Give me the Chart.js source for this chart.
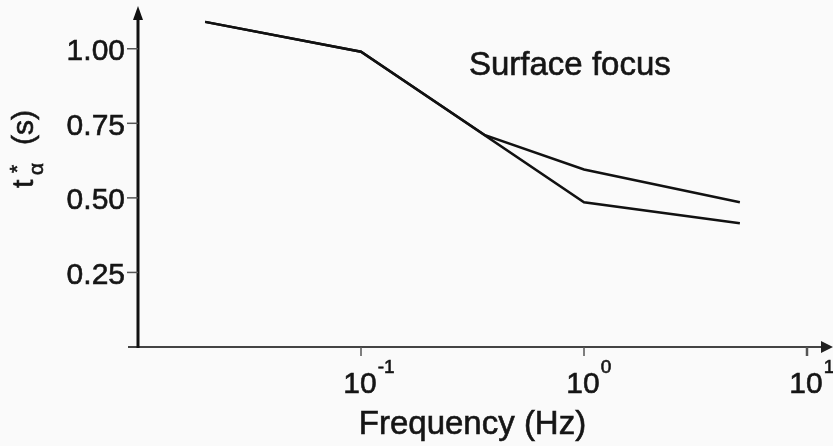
<!DOCTYPE html>
<html>
<head>
<meta charset="utf-8">
<script src="https://cdn.jsdelivr.net/npm/chart.js@4/dist/chart.umd.min.js"></script>
<style>
    body { margin: 0; background: #fafafa; }
    #wrap { width: 833px; height: 446px; position: relative; }
</style>
</head>
<body>
<div id="wrap"><canvas id="tChart"></canvas></div>
<script>
// data
const freqLower = [0.02, 0.1, 1, 5];
const tLower = [1.09, 0.99, 0.485, 0.415];
const freqUpper = [0.02, 0.1, 0.36, 1, 5];
const tUpper = [1.09, 0.99, 0.71, 0.595, 0.485];
const yTicks = [0.25, 0.5, 0.75, 1.0];
const xTicks = [0.1, 1, 10];
const xTickExp = ['-1', '0', '1'];

const FONT = '"Liberation Sans", Arial, sans-serif';

function toPoints(xs, ys) {
    return xs.map(function(x, i) { return { x: x, y: ys[i] }; });
}

// fill + thin stroke, the scanned text looks a bit heavier
function text(c, s, x, y) {
    c.fillText(s, x, y);
    c.strokeText(s, x, y);
}

// axes, arrows, ticks and labels
const axesPlugin = {
    id: 'axesPlugin',
    afterDraw: function(chart) {
        const c = chart.ctx;
        const xs = chart.scales.x;
        const ys = chart.scales.y;
        const area = chart.chartArea;
        const x0 = area.left;
        const y0 = ys.getPixelForValue(0);
        c.save();

        // x axis line + arrow
        c.strokeStyle = '#444';
        c.lineWidth = 2;
        c.beginPath();
        c.moveTo(x0 - 10, y0);
        c.lineTo(826, y0);
        c.stroke();
        c.fillStyle = '#222';
        c.beginPath();
        c.moveTo(833, y0);
        c.lineTo(821, y0 - 6);
        c.lineTo(821, y0 + 6);
        c.closePath();
        c.fill();

        // y axis line + arrow
        c.strokeStyle = '#111';
        c.lineWidth = 3;
        c.beginPath();
        c.moveTo(x0, y0 + 1);
        c.lineTo(x0, 14);
        c.stroke();
        c.fillStyle = '#111';
        c.beginPath();
        c.moveTo(x0, 6);
        c.lineTo(x0 - 5, 20);
        c.lineTo(x0 + 5, 20);
        c.closePath();
        c.fill();

        // y ticks
        c.strokeStyle = '#555';
        c.lineWidth = 1.5;
        yTicks.forEach(function(v) {
            const py = ys.getPixelForValue(v);
            c.beginPath();
            c.moveTo(x0 - 11, py);
            c.lineTo(x0, py);
            c.stroke();
        });
        xTicks.forEach(function(v, i) {
            const px = xs.getPixelForValue(v);
            c.lineWidth = i === 2 ? 2.5 : 1.5;
            c.beginPath();
            c.moveTo(px, y0);
            c.lineTo(px, y0 + 9);
            c.stroke();
        });

        c.fillStyle = '#151515';
        c.strokeStyle = '#151515';
        c.lineWidth = 0.6;

        c.font = '30px ' + FONT;
        c.textAlign = 'right';
        c.textBaseline = 'middle';
        yTicks.forEach(function(v) {
            text(c, v.toFixed(2), x0 - 13, ys.getPixelForValue(v) + 3);
        });

        // x tick labels with superscripts
        c.textBaseline = 'alphabetic';
        xTicks.forEach(function(v, i) {
            const px = xs.getPixelForValue(v);
            c.font = '30px ' + FONT;
            c.textAlign = 'center';
            text(c, '10', px - 1, 393);
            const w = c.measureText('10').width;
            c.font = '19px ' + FONT;
            c.textAlign = 'left';
            text(c, xTickExp[i], px - 1 + w / 2 + 1, 373);
        });

        // x title
        c.font = '33px ' + FONT;
        c.textAlign = 'center';
        text(c, 'Frequency (Hz)', (area.left + area.right) / 2, 434);

        // annotation
        c.textAlign = 'left';
        text(c, 'Surface focus', 469, 75);

        // y title: t*α (s), rotated
        c.translate(33, 188);
        c.rotate(-Math.PI / 2);
        c.font = '30px ' + FONT;
        text(c, 't', 0, 0);
        c.font = '21px ' + FONT;
        text(c, '*', 15, -9);
        text(c, 'α', 13, 10);
        c.font = '30px ' + FONT;
        text(c, '(s)', 43, 0);

        c.restore();
    }
};

document.addEventListener('DOMContentLoaded', function() {
    const ctx = document.getElementById('tChart');
    new Chart(ctx, {
        type: 'line',
        data: {
            datasets: [{
                label: 'lower',
                data: toPoints(freqLower, tLower),
                borderColor: '#111',
                borderWidth: 2.5,
                pointRadius: 0,
                tension: 0,
                clip: false
            }, {
                label: 'upper',
                data: toPoints(freqUpper, tUpper),
                borderColor: '#111',
                borderWidth: 2.5,
                pointRadius: 0,
                tension: 0,
                clip: false
            }]
        },
        options: {
            responsive: true,
            maintainAspectRatio: false,
            animation: false,
            layout: {
                padding: { left: 138, right: 26, top: 4, bottom: 99 }
            },
            plugins: {
                legend: { display: false },
                tooltip: { enabled: false }
            },
            scales: {
                x: { type: 'logarithmic', min: 0.01, max: 10, display: false },
                y: { type: 'linear', min: 0, max: 1.15, display: false }
            }
        },
        plugins: [axesPlugin]
    });
});
</script>
</body>
</html>
